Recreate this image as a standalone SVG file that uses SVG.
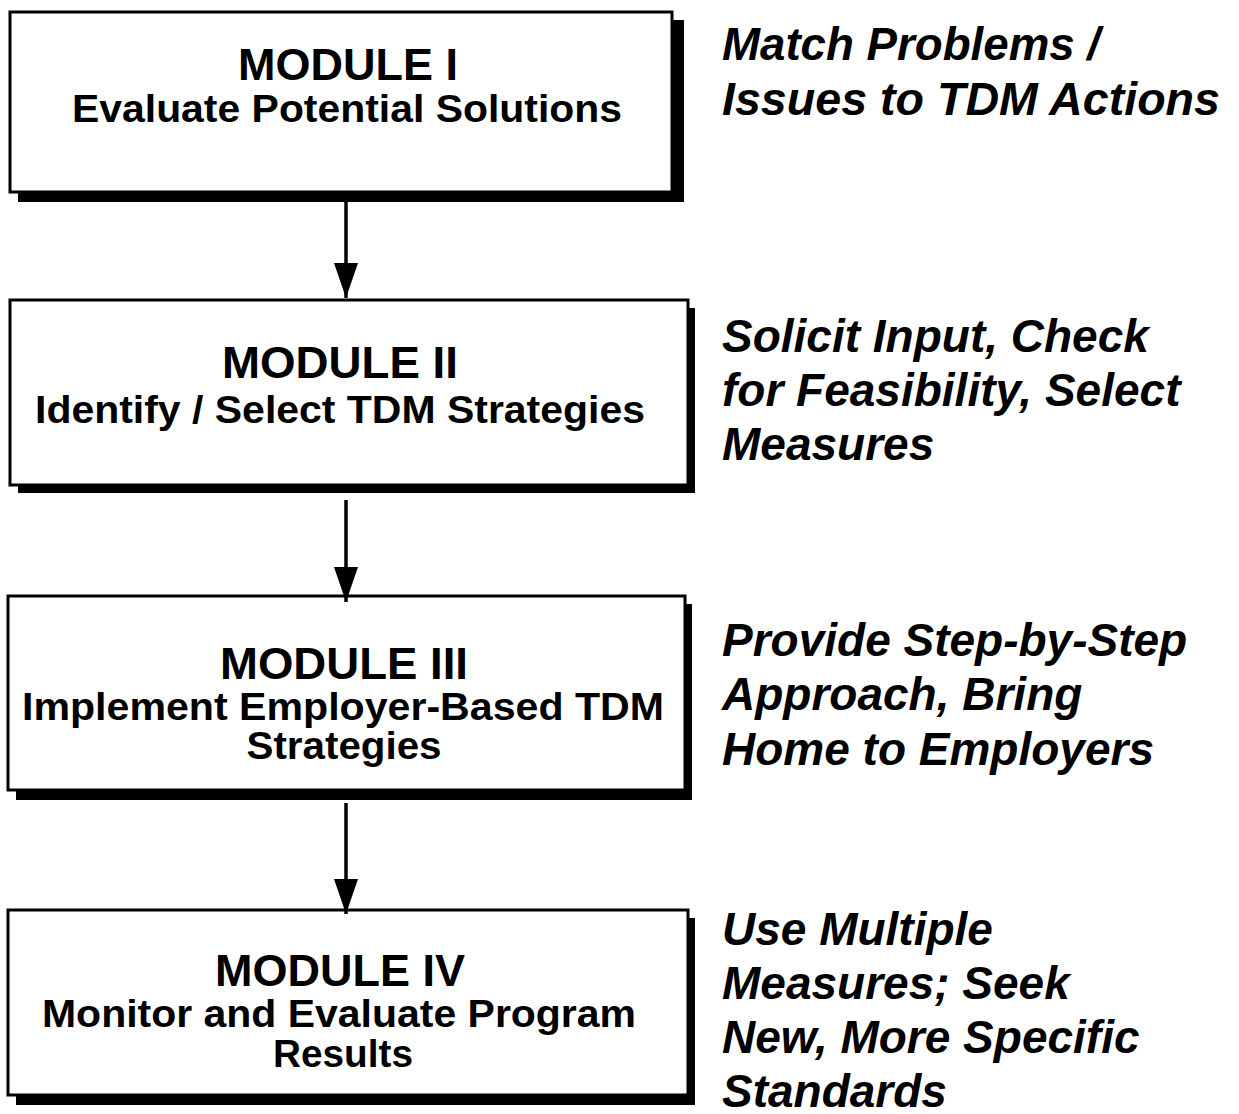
<svg xmlns="http://www.w3.org/2000/svg" width="1239" height="1114" viewBox="0 0 1239 1114">
<style>
.box{fill:#fff;stroke:#000;stroke-width:3}
.shadow{fill:#000}
.t1{font-family:"Liberation Sans",Arial,sans-serif;font-weight:bold;font-size:44px;text-anchor:middle;fill:#000}
.t2{font-family:"Liberation Sans",Arial,sans-serif;font-weight:bold;font-size:38px;text-anchor:middle;fill:#000}
.side{font-family:"Liberation Sans",Arial,sans-serif;font-weight:bold;font-style:italic;font-size:46px;fill:#000}
.conn{stroke:#000;stroke-width:3.5;fill:none}
</style>
<defs>
<marker id="ah" markerUnits="userSpaceOnUse" markerWidth="36" markerHeight="26" refX="35" refY="13" orient="auto" viewBox="0 0 36 26">
<polygon points="0,1 35,13 0,25" fill="#000"/>
</marker>
</defs>
<rect width="1239" height="1114" fill="#fff"/>

<g id="module1">
<rect class="shadow" x="18" y="20" width="666" height="182"/>
<rect class="box" x="10" y="12" width="662" height="180"/>
<text class="t1" x="348" y="80" textLength="220" lengthAdjust="spacingAndGlyphs">MODULE I</text>
<text class="t2" x="347" y="122" textLength="550" lengthAdjust="spacingAndGlyphs">Evaluate Potential Solutions</text>
</g>

<g id="module2">
<rect class="shadow" x="18" y="308" width="677" height="185"/>
<rect class="box" x="10" y="300" width="678" height="185"/>
<text class="t1" x="340" y="378" textLength="236" lengthAdjust="spacingAndGlyphs">MODULE II</text>
<text class="t2" x="340" y="423" textLength="610" lengthAdjust="spacingAndGlyphs">Identify / Select TDM Strategies</text>
</g>

<g id="module3">
<rect class="shadow" x="16" y="604" width="676" height="196"/>
<rect class="box" x="8" y="596" width="677" height="194"/>
<text class="t1" x="344" y="679" textLength="248" lengthAdjust="spacingAndGlyphs">MODULE III</text>
<text class="t2" x="343" y="720" textLength="642" lengthAdjust="spacingAndGlyphs">Implement Employer-Based TDM</text>
<text class="t2" x="344" y="759" textLength="195" lengthAdjust="spacingAndGlyphs">Strategies</text>
</g>

<g id="module4">
<rect class="shadow" x="16" y="918" width="679" height="187"/>
<rect class="box" x="8" y="910" width="680" height="185"/>
<text class="t1" x="340" y="986" textLength="250" lengthAdjust="spacingAndGlyphs">MODULE IV</text>
<text class="t2" x="339" y="1027" textLength="594" lengthAdjust="spacingAndGlyphs">Monitor and Evaluate Program</text>
<text class="t2" x="343" y="1067" textLength="140" lengthAdjust="spacingAndGlyphs">Results</text>
</g>

<g id="connectors">
<line class="conn" x1="346" y1="192" x2="346" y2="298" marker-end="url(#ah)"/>
<line class="conn" x1="346" y1="500" x2="346" y2="602" marker-end="url(#ah)"/>
<line class="conn" x1="346" y1="803" x2="346" y2="914" marker-end="url(#ah)"/>
</g>

<g id="notes">
<text class="side" x="722" y="60" textLength="378" lengthAdjust="spacingAndGlyphs">Match Problems /</text>
<text class="side" x="722" y="115" textLength="498" lengthAdjust="spacingAndGlyphs">Issues to TDM Actions</text>
<text class="side" x="722" y="352">Solicit Input, Check</text>
<text class="side" x="722" y="406">for Feasibility, Select</text>
<text class="side" x="722" y="460">Measures</text>
<text class="side" x="722" y="656">Provide Step-by-Step</text>
<text class="side" x="722" y="710">Approach, Bring</text>
<text class="side" x="722" y="765">Home to Employers</text>
<text class="side" x="722" y="945">Use Multiple</text>
<text class="side" x="722" y="999">Measures; Seek</text>
<text class="side" x="722" y="1053">New, More Specific</text>
<text class="side" x="722" y="1107">Standards</text>
</g>
</svg>
